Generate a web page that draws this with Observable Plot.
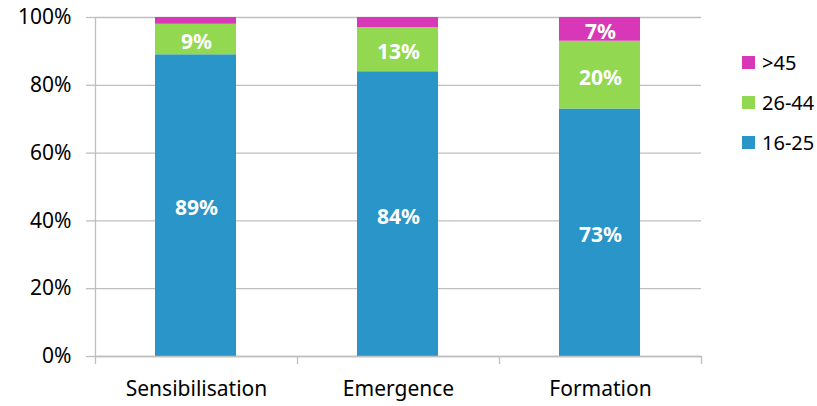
<!DOCTYPE html>
<html><head><meta charset="utf-8">
<script src="https://cdn.jsdelivr.net/npm/d3@7"></script>
<script src="https://cdn.jsdelivr.net/npm/@observablehq/plot@0.6"></script>
<style>
body{margin:0;background:#fff;}
#wrap{position:relative;width:817px;height:406px;font-family:"Noto Sans",sans-serif;}
.leg{position:absolute;left:742px;display:flex;align-items:center;font-size:20px;color:#000;}
.leg span.sw{display:inline-block;width:13px;height:13px;margin-right:7px;}
</style></head>
<body><div id="wrap"></div>
<script>
const categories = ["Sensibilisation", "Emergence", "Formation"];
const groups = ["16-25", "26-44", ">45"];
const v1625 = [89, 84, 73];
const v2644 = [9, 13, 20];
const v45 = [2, 3, 7];
const labels2644 = ["9%", "13%", "20%"];
const labels45 = ["", "", "7%"];
const labels1625 = ["89%", "84%", "73%"];
const yTicks = [0, 20, 40, 60, 80, 100];
const colors = ["#2a95c8", "#92d850", "#d838b8"];

const data = [];
categories.forEach((c, i) => {
  data.push({i, cat: c, g: groups[0], v: v1625[i], label: labels1625[i]});
  data.push({i, cat: c, g: groups[1], v: v2644[i], label: labels2644[i]});
  data.push({i, cat: c, g: groups[2], v: v45[i], label: labels45[i]});
});

const grey = "#bfbfbf";
const chart = Plot.plot({
  width: 817, height: 406,
  marginLeft: 95, marginRight: 116, marginTop: 17, marginBottom: 50,
  style: {fontFamily: "Noto Sans, sans-serif", fontSize: "20px", color: "#000", background: "#fff"},
  x: {domain: [0, 3], axis: null},
  y: {domain: [0, 100], axis: null},
  color: {domain: groups, range: colors},
  marks: [
    Plot.gridY(yTicks, {stroke: grey, strokeOpacity: 1, strokeWidth: 1.3}),
    Plot.axisY(yTicks, {label: null, tickSize: 9, stroke: grey, strokeWidth: 1.3, tickPadding: 15, tickFormat: d => d + "%", fill: "#000", fontSize: 21}),
    Plot.ruleX([0], {stroke: grey, strokeWidth: 1.3}),
    Plot.rectY(data, Plot.stackY({x: "i", interval: 1, y: "v", fill: "g", z: "g", insetLeft: 60, insetRight: 61})),
    Plot.text(data, Plot.stackY({x: d => d.i + 0.5, y: "v", z: "g", text: "label", fill: "#fff", fontWeight: "bold", fontSize: 21, dy: 3})),
    Plot.ruleY([0], {stroke: grey, strokeWidth: 1.3}),
    Plot.axisX([0, 1, 2, 3], {label: null, tickSize: 8, stroke: grey, strokeWidth: 1.3, tickFormat: () => ""}),
    Plot.axisX([0.5, 1.5, 2.5], {label: null, tickSize: 0, tickPadding: 25, tickFormat: d => categories[Math.floor(d)], fill: "#000", fontSize: 21})
  ]
});
const wrap = document.getElementById("wrap");
wrap.appendChild(chart);
const legendItems = [[groups[2], colors[2], 63], [groups[1], colors[1], 103], [groups[0], colors[0], 143]];
legendItems.forEach(([g, c, y]) => {
  const d = document.createElement("div");
  d.className = "leg";
  d.style.top = (y - 14) + "px";
  d.innerHTML = `<span class="sw" style="background:${c}"></span><span>${g}</span>`;
  wrap.appendChild(d);
});
</script></body></html>
